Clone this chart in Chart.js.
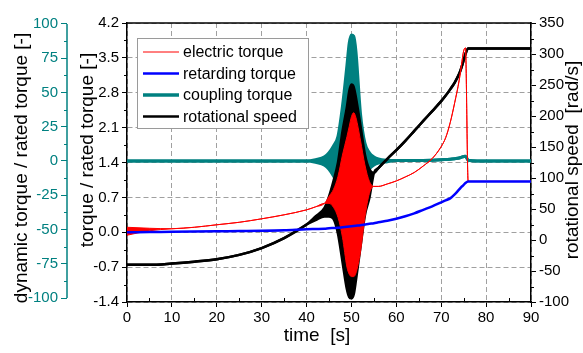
<!DOCTYPE html>
<html>
<head>
<meta charset="utf-8">
<title>motor start-up</title>
<script src="https://cdn.jsdelivr.net/npm/chart.js@4.4.0/dist/chart.umd.min.js"></script>
<style>
  html, body { margin: 0; padding: 0; background: #fff; }
</style>
</head>
<body>
<canvas id="startupChart" width="583" height="353"></canvas>
<script>
// time axis [s]
var time = [0, 5, 10, 15, 20, 25, 30, 35, 40, 42, 44, 45, 46, 47, 48, 49, 49.5, 50, 50.5, 51, 52, 53, 54, 55, 56, 58, 60, 62, 64, 66, 68, 70, 71, 72, 73, 74, 74.5, 75, 75.4, 76, 78, 80, 85, 90];

// electric torque / rated torque (upper + lower edge of the oscillation band)
var electricTorque    = [0.10, 0.08, 0.07, 0.10, 0.15, 0.20, 0.27, 0.35, 0.45, 0.51, 0.58, 0.72, 0.86, 1.12, 1.55, 1.92, 2.12, 2.32, 2.40, 2.30, 1.85, 1.35, 1.02, 0.92, 0.92, 0.97, 1.03, 1.11, 1.20, 1.33, 1.48, 1.72, 1.90, 2.20, 2.60, 3.05, 3.35, 3.64, 3.70, 1.02, 1.02, 1.02, 1.02, 1.02];
var electricTorqueLow = [-0.06, 0.03, 0.07, 0.10, 0.15, 0.20, 0.27, 0.35, 0.45, 0.51, 0.58, 0.58, 0.50, 0.30, -0.10, -0.70, -0.84, -0.89, -0.89, -0.82, -0.40, 0.30, 0.78, 0.92, 0.92, 0.97, 1.03, 1.11, 1.20, 1.33, 1.48, 1.72, 1.90, 2.20, 2.60, 3.05, 3.35, 3.64, 3.70, 1.02, 1.02, 1.02, 1.02, 1.02];

// retarding torque / rated torque
var retardingTorque = [0.00, 0.005, 0.01, 0.015, 0.02, 0.025, 0.03, 0.04, 0.06, 0.065, 0.07, 0.08, 0.085, 0.09, 0.10, 0.11, 0.115, 0.12, 0.125, 0.13, 0.14, 0.155, 0.17, 0.18, 0.20, 0.23, 0.27, 0.32, 0.38, 0.45, 0.52, 0.60, 0.64, 0.68, 0.76, 0.86, 0.91, 0.95, 0.99, 1.02, 1.02, 1.02, 1.02, 1.02];

// coupling (dynamic) torque / rated torque
var couplingTorque    = [0, 0, 0, 0, 0, 0, 0, 0, 0, 1, 3, 6, 11, 18, 40, 70, 86, 92, 91, 80, 35, 13, 6, 3, 1.5, 0.5, 0.3, 0.3, 0.3, 0.4, 0.6, 0.9, 1.1, 1.3, 1.7, 2.2, 2.7, 3.3, 3.5, 0.5, 0, 0, 0, 0];
var couplingTorqueLow = [0, 0, 0, 0, 0, 0, 0, 0, 0, -1, -3, -6, -11, -18, -40, -70, -86, -92, -91, -80, -35, -13, -6, -3, -1.5, -0.5, 0.3, 0.3, 0.3, 0.4, 0.6, 0.9, 1.1, 1.3, 1.7, 2.2, 2.7, 3.3, 3.5, 0.5, 0, 0, 0, 0];

// rotational speed [rad/s]
var rotSpeed    = [-40, -40, -38, -35, -31, -24, -13, 3, 25, 38, 52, 70, 95, 125, 175, 215, 240, 251, 247, 230, 185, 138, 114, 108, 116, 131, 145, 160, 176, 192, 208, 224, 233, 243, 254, 268, 278, 290, 300, 309, 309, 309, 309, 309];
var rotSpeedLow = [-40, -40, -38, -35, -31, -24, -13, 3, 25, 32, 38, 38, 34, 10, -35, -80, -92, -94, -88, -65, -12, 40, 68, 108, 116, 131, 145, 160, 176, 192, 208, 224, 233, 243, 254, 268, 278, 290, 300, 309, 309, 309, 309, 309];

// tick labels
var timeTicks = [0, 10, 20, 30, 40, 50, 60, 70, 80, 90];
var torqueTicks = [-1.4, -0.7, 0, 0.7, 1.4, 2.1, 2.8, 3.5, 4.2];
var dynTicks = [-100, -75, -50, -25, 0, 25, 50, 75, 100];
var speedTicks = [-100, -50, 0, 50, 100, 150, 200, 250, 300, 350];

var seriesNames = ['electric torque', 'retarding torque', 'coupling torque', 'rotational speed'];

var TEAL = '#008080';
var FONT = "'Liberation Sans', Arial, sans-serif";
Chart.defaults.font.family = FONT;

function pts(vals) {
    return time.map(function(t, i) { return { x: t, y: vals[i] }; });
}

function midpoints(ticks) {
    var out = [];
    for (var i = 0; i < ticks.length - 1; i++) out.push((ticks[i] + ticks[i + 1]) / 2);
    return out;
}

function fixedTicks(list) {
    return function(scale) {
        scale.ticks = list.map(function(v) { return { value: v }; });
    };
}

// extra drawing: frame, minor ticks, teal axis line, axis titles, legend box
var extras = {
    id: 'extras',
    afterDraw: function(chart) {
        var ctx = chart.ctx, a = chart.chartArea;
        var sx = chart.scales.x, st = chart.scales.yTorque, sd = chart.scales.yDyn, ss = chart.scales.ySpeed;
        ctx.save();

        // top frame
        ctx.strokeStyle = '#000';
        ctx.lineWidth = 1.5;
        ctx.beginPath();
        ctx.moveTo(a.left - 0.75, a.top);
        ctx.lineTo(a.right + 0.75, a.top);
        ctx.stroke();

        // minor ticks
        ctx.lineWidth = 1;
        ctx.beginPath();
        midpoints(timeTicks).forEach(function(v) {
            var px = Math.round(sx.getPixelForValue(v)) + 0.5;
            ctx.moveTo(px, a.bottom); ctx.lineTo(px, a.bottom - 4);
        });
        midpoints(torqueTicks).forEach(function(v) {
            var py = Math.round(st.getPixelForValue(v)) + 0.5;
            ctx.moveTo(a.left, py); ctx.lineTo(a.left - 3, py);
        });
        midpoints(speedTicks).forEach(function(v) {
            var py = Math.round(ss.getPixelForValue(v)) + 0.5;
            ctx.moveTo(a.right, py); ctx.lineTo(a.right + 3, py);
        });
        ctx.stroke();

        // teal axis line + minor ticks
        var tx = sd.right;
        ctx.strokeStyle = TEAL;
        ctx.lineWidth = 1.5;
        ctx.beginPath();
        ctx.moveTo(tx, sd.getPixelForValue(100));
        ctx.lineTo(tx, sd.getPixelForValue(-100));
        ctx.stroke();
        ctx.lineWidth = 1;
        ctx.beginPath();
        midpoints(dynTicks).forEach(function(v) {
            var py = Math.round(sd.getPixelForValue(v)) + 0.5;
            ctx.moveTo(tx, py); ctx.lineTo(tx - 3, py);
        });
        ctx.stroke();

        // axis titles
        ctx.fillStyle = '#000';
        ctx.font = '19px ' + FONT;
        ctx.textAlign = 'center';
        ctx.textBaseline = 'middle';
        ctx.fillText('time  [s]', 317, 336);

        var vtitle = function(text, x, y) {
            ctx.save();
            ctx.translate(x, y);
            ctx.rotate(-Math.PI / 2);
            ctx.fillText(text, 0, 0);
            ctx.restore();
        };
        vtitle('dynamic torque / rated torque [-]', 22, 168);
        vtitle('torque / rated torque [-]', 88, 150);
        vtitle('rotational speed  [rad/s]', 573, 160);

        // legend
        var lx = a.left + 10, ly = a.top + 15, lw = 171, lh = 90;
        ctx.fillStyle = '#fff';
        ctx.fillRect(lx, ly, lw, lh);
        ctx.strokeStyle = '#9a9a9a';
        ctx.lineWidth = 1;
        ctx.strokeRect(lx + 0.5, ly + 0.5, lw, lh);
        ctx.font = '16px ' + FONT;
        ctx.textAlign = 'left';
        for (var i = 0; i < seriesNames.length; i++) {
            var ds = chart.data.datasets[i];
            var ry = ly + 14 + i * 21.5;
            ctx.strokeStyle = ds.borderColor;
            ctx.lineWidth = ds.legendWidth;
            ctx.beginPath();
            ctx.moveTo(lx + 6, ry);
            ctx.lineTo(lx + 42, ry);
            ctx.stroke();
            ctx.fillStyle = '#000';
            ctx.fillText(ds.label, lx + 46, ry + 1);
        }
        ctx.restore();
    }
};

var common = {
    pointRadius: 0,
    cubicInterpolationMode: 'monotone'
};

function line(label, vals, color, width, axis, order, extra) {
    var ds = Object.assign({
        label: label,
        data: pts(vals),
        borderColor: color,
        backgroundColor: color,
        borderWidth: width,
        yAxisID: axis,
        order: order,
        fill: false
    }, common);
    return Object.assign(ds, extra || {});
}

var datasets = [
    line(seriesNames[0], electricTorque, '#ff0000', 1, 'yTorque', 2, { fill: 4, legendWidth: 1 }),
    line(seriesNames[1], retardingTorque, '#0000ff', 2.5, 'yTorque', 1, { legendWidth: 2.5 }),
    line(seriesNames[2], couplingTorque, TEAL, 3, 'yDyn', 4, { fill: 5, legendWidth: 3.5 }),
    line(seriesNames[3], rotSpeed, '#000000', 2.5, 'ySpeed', 3, { fill: 6, legendWidth: 2.5 }),
    line('electric low', electricTorqueLow, '#ff0000', 1, 'yTorque', 2),
    line('coupling low', couplingTorqueLow, TEAL, 3, 'yDyn', 4),
    line('speed low', rotSpeedLow, '#000000', 2.5, 'ySpeed', 3)
];

var gridDash = { display: true, color: '#000', width: 1.5, dash: [5, 3] };

new Chart(document.getElementById('startupChart'), {
    type: 'line',
    data: { datasets: datasets },
    plugins: [extras],
    options: {
        responsive: false,
        animation: false,
        layout: { padding: { top: 23, left: 0, right: 0, bottom: 0 } },
        plugins: {
            legend: { display: false },
            tooltip: { enabled: false }
        },
        scales: {
            x: {
                type: 'linear',
                min: 0, max: 90,
                afterBuildTicks: fixedTicks(timeTicks),
                afterFit: function(s) { s.height = 51; },
                grid: { color: '#a0a0a0', lineWidth: 1, tickLength: 5, tickColor: '#000' },
                border: gridDash,
                ticks: { color: '#000', font: { size: 15 }, padding: 2, maxRotation: 0, autoSkip: false }
            },
            yTorque: {
                type: 'linear',
                position: 'left',
                weight: 0,
                min: -1.4, max: 4.2,
                afterBuildTicks: fixedTicks(torqueTicks),
                afterFit: function(s) { s.width = 60; },
                grid: { color: '#a0a0a0', lineWidth: 1, tickLength: 5, tickColor: '#000' },
                border: gridDash,
                ticks: {
                    color: '#000', font: { size: 15 }, padding: 3, autoSkip: false,
                    callback: function(v) { return v.toFixed(1); }
                }
            },
            yDyn: {
                type: 'linear',
                position: 'left',
                weight: 1,
                min: -102.9, max: 100.7,
                afterBuildTicks: fixedTicks(dynTicks),
                afterFit: function(s) { s.width = 67; },
                grid: { drawOnChartArea: false, tickLength: 6, tickColor: TEAL },
                border: { display: false },
                ticks: { color: TEAL, font: { size: 15 }, padding: 3, autoSkip: false }
            },
            ySpeed: {
                type: 'linear',
                position: 'right',
                min: -100, max: 350,
                afterBuildTicks: fixedTicks(speedTicks),
                afterFit: function(s) { s.width = 52; },
                grid: { drawOnChartArea: false, tickLength: 5, tickColor: '#000' },
                border: { display: true, color: '#000', width: 1.5 },
                ticks: { color: '#000', font: { size: 15 }, padding: 3, autoSkip: false }
            }
        }
    }
});
</script>
</body>
</html>
